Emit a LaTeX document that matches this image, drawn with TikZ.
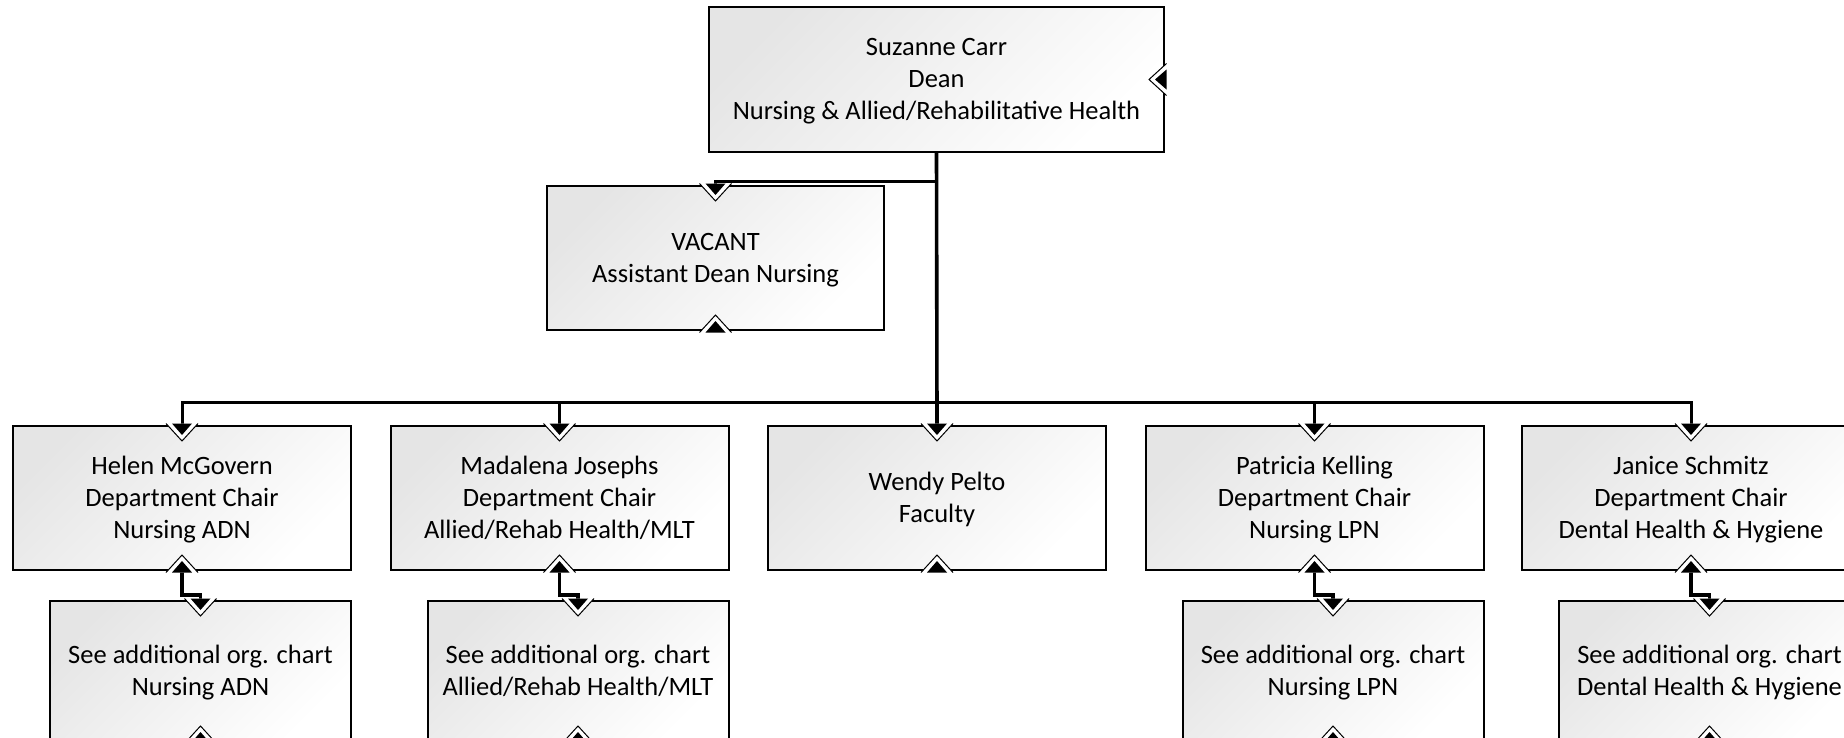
\documentclass[tikz,border=0pt]{standalone}
\usepackage{fontspec}
\setmainfont{Carlito}
\newcommand\topst{\rule{0pt}{24pt}}
\newcommand\botst{\rule[-8pt]{0pt}{8pt}}
\begin{document}
\begin{tikzpicture}[x=1pt,y=-1pt,
  box/.style={draw, line width=2pt, top color=black!10, bottom color=white, shading angle=45,
    minimum width=338pt, minimum height=144pt, inner sep=0pt, align=center,
    font=\fontsize{26.5}{32}\selectfont},
  subbox/.style={box, minimum width=301pt, minimum height=140pt},
  conn/.style={line width=3pt},
  trunk/.style={line width=3.6pt},
  mk/.pic={
    \fill[white] (-16pt,1.5pt) -- (16pt,1.5pt) -- (0pt,-16pt) -- cycle;
    \draw[line width=1pt] (-16pt,1.5pt) -- (0pt,-16pt) -- (16pt,1.5pt);
    \fill[black] (-10pt,1.5pt) -- (10pt,1.5pt) -- (0pt,-10pt) -- cycle;
  }]
\useasboundingbox (0,0) rectangle (1844,737);
\clip (0,0) rectangle (1844,737);
% nodes
\node[box, minimum width=455pt, minimum height=145pt] (dean) at (936.5,79.5) {\topst Suzanne Carr\\Dean\\Nursing \& Allied/Rehabilitative Health\botst};
\node[box, minimum width=337pt] (vacant) at (715.5,258) {\topst VACANT\\Assistant Dean Nursing\botst};
\node[box] (helen) at (182,498) {\topst Helen McGovern\\Department Chair\\Nursing ADN\botst};
\node[box] (madalena) at (559.5,498) {\topst Madalena Josephs\\Department Chair\\Allied/Rehab Health/MLT\botst};
\node[box] (wendy) at (937,498) {\topst Wendy Pelto\\Faculty\botst};
\node[box] (patricia) at (1314.5,498) {\topst Patricia Kelling\\Department Chair\\Nursing LPN\botst};
\node[box] (janice) at (1691,498) {\topst Janice Schmitz\\Department Chair\\Dental Health \& Hygiene\botst};
\node[subbox] (helensub) at (200.5,671) {\topst See additional org. chart\\Nursing ADN\botst};
\node[subbox] (madalenasub) at (578,671) {\topst See additional org. chart\\Allied/Rehab Health/MLT\botst};
\node[subbox] (patriciasub) at (1333,671) {\topst See additional org. chart\\Nursing LPN\botst};
\node[subbox] (janicesub) at (1709.5,671) {\topst See additional org. chart\\Dental Health \& Hygiene\botst};
% coordinates
\coordinate (vj) at (936.5,181);
\coordinate (bus) at (936.5,402);
% connectors
\draw[trunk] (dean.south) -- (wendy.north);
\draw[conn] (vj) -| (vacant.north);
\draw[conn] (helen.north) |- (bus) -| (janice.north);
\draw[conn] (madalena.north) -- (madalena.north |- bus);
\draw[conn] (patricia.north) -- (patricia.north |- bus);
\foreach \p in {helen,madalena,patricia,janice}{
  \draw[line width=3.6pt] (\p.south) -- ++(0,24) -| (\p sub.north);
}
% markers
\foreach \n in {vacant,helen,madalena,wendy,patricia,janice,helensub,madalenasub,patriciasub,janicesub}{
  \pic at (\n.north) {mk};
  \pic[rotate=180] at (\n.south) {mk};
}
\pic[rotate=-90] at (dean.east) {mk};
\end{tikzpicture}
\end{document}
